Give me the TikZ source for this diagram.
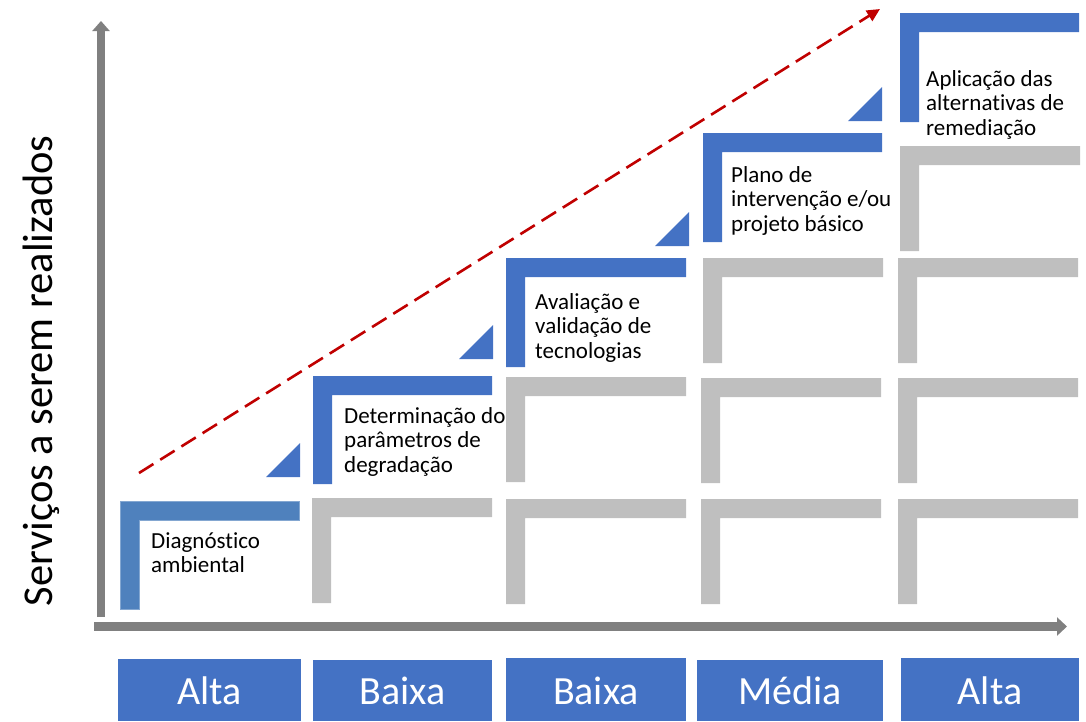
\documentclass[tikz,border=0pt]{standalone}
\usepackage{fontspec}
\setmainfont{Carlito}[Ligatures=NoCommon]
\usetikzlibrary{arrows.meta}
\definecolor{bblue}{HTML}{4472C4}
\definecolor{fblue}{HTML}{4F81BD}
\definecolor{lgray}{HTML}{BFBFBF}
\definecolor{agray}{HTML}{808080}
\definecolor{dred}{HTML}{C00000}
\newcommand\Lsh[5]{% color, x, y, width, height
  \fill[#1] (#2,#3) -- ++(#4,0) -- ++(0,19) -- ++(-#4+19,0) -- ++(0,#5-19) -- ++(-19,0) -- cycle;}
\newcommand\Tri[3]{% x right, y bottom, size
  \fill[bblue] (#1,#2) -- ++(-#3,0) -- ++(#3,-#3) -- cycle;}
\tikzset{
  blocktext/.style={anchor=base west, inner sep=0pt, font=\fontsize{23}{24.8}\selectfont},
  catbox/.style={fill=bblue, draw=none},
  cattext/.style={text=white, font=\fontsize{40}{44}\selectfont, inner sep=0pt, anchor=base},
  axis/.style={agray, line width=8.5pt},
}
\begin{document}
\begin{tikzpicture}[x=1pt,y=-1pt]
\useasboundingbox (0,0) rectangle (1086,721);
% gray L shapes
\foreach \cx/\ry in {312/498, 506/499, 701/499, 898/499,
                      506/377, 701/378, 898/378,
                      703/258, 898/258,
                      900/146}{
  \Lsh{lgray}{\cx}{\ry}{180}{105}
}
% blue L shapes
\fill[fblue, draw=fblue!70!white, line width=0.8pt]
  (120,501) -- (299,501) -- (299,520) -- (139,520) -- (139,609) -- (120,609) -- cycle;
\Lsh{bblue}{313}{376}{179}{108}
\Lsh{bblue}{506}{258}{180}{109}
\Lsh{bblue}{703}{133}{179}{109}
\Lsh{bblue}{900}{13}{179}{109}
% triangles
\Tri{300}{477}{34}
\Tri{493}{359}{34}
\Tri{689}{246}{34}
\Tri{882}{121}{34}
% axes
\coordinate (o1) at (101,617);
\coordinate (yt) at (101,21);
\coordinate (o2) at (94,626.5);
\coordinate (xt) at (1067,626.5);
\draw[axis, -{Triangle[length=10pt,width=17pt]}] (o1) -- (yt);
\draw[axis, -{Triangle[length=10pt,width=18pt]}] (o2) -- (xt);
% red dashed trend
\coordinate (ds) at (139,473);
\coordinate (de) at (880,9);
\draw[dred, line width=2.6pt, dash pattern=on 17pt off 8pt,
      -{Triangle[length=13pt,width=12pt]}] (ds) -- (de);
% block texts
\node[blocktext] (t1) at (151,548) {\vtop{\hbox{Diagnóstico}\hbox{ambiental}}};
\node[blocktext] (t2) at (344,423) {\vtop{\hbox{Determinação do}\hbox{parâmetros de}\hbox{degradação}}};
\node[blocktext] (t3) at (535,309) {\vtop{\hbox{Avaliação e}\hbox{validação de}\hbox{tecnologias}}};
\node[blocktext] (t4) at (731,182) {\vtop{\hbox{Plano de}\hbox{intervenção e/ou}\hbox{projeto básico}}};
\node[blocktext] (t5) at (926,86) {\vtop{\hbox{Aplicação das}\hbox{alternativas de}\hbox{remediação}}};
% category boxes
\fill[catbox] (118,659) rectangle (301,721);
\fill[catbox] (313,660) rectangle (492,721);
\fill[catbox] (506,658) rectangle (686,721);
\fill[catbox] (697,660) rectangle (883,721);
\fill[catbox] (901,658) rectangle (1079,721);
\node[cattext] (c1) at (209.5,704) {Alta};
\node[cattext] (c2) at (402.5,704) {Baixa};
\node[cattext] (c3) at (596,704) {Baixa};
\node[cattext] (c4) at (790,704) {Média};
\node[cattext] (c5) at (990,704) {Alta};
% y label
\node[rotate=90, anchor=base, inner sep=0pt, font=\fontsize{42.5}{46}\selectfont] (yl) at (52,371) {Serviços a serem realizados};
\end{tikzpicture}
\end{document}
